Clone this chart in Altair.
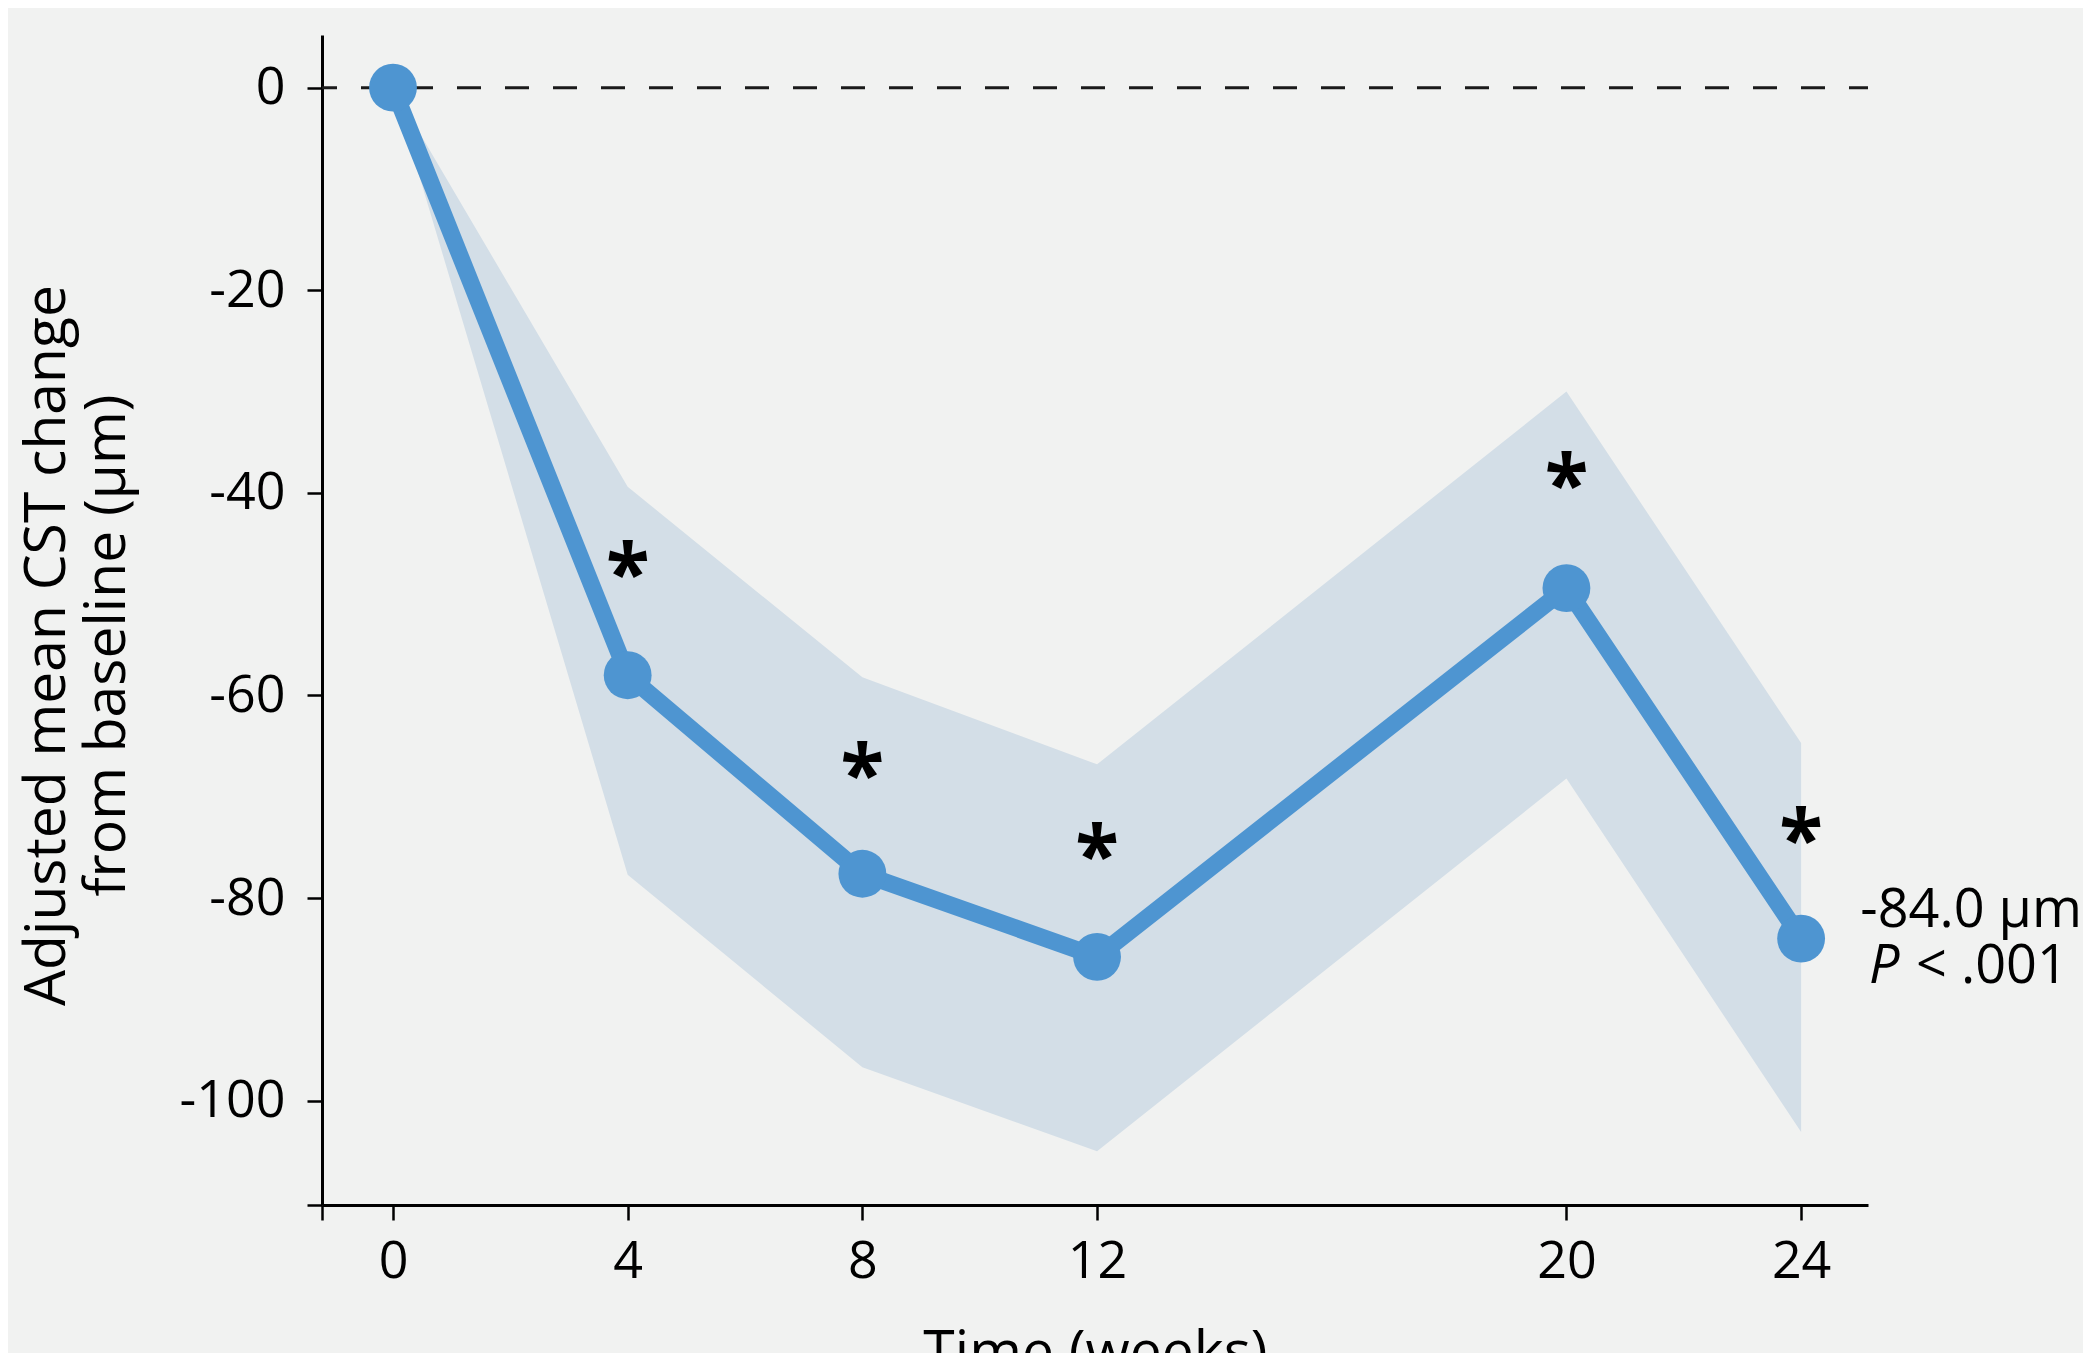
import altair as alt
import pandas as pd

# ---- data ----
weeks = [0, 4, 8, 12, 20, 24]
mean_change = [0.0, -58.0, -77.6, -85.8, -49.4, -84.0]
ci_upper = [0.0, -39.4, -58.2, -66.8, -30.0, -64.7]
ci_lower = [0.0, -77.7, -96.7, -105.0, -68.2, -103.1]

star_weeks = [4, 8, 12, 20, 24]
star_y = [-46.7, -66.6, -74.6, -37.9, -73.0]

x_ticks = [0, 4, 8, 12, 20, 24]
y_ticks = [0, -20, -40, -60, -80, -100]
x_domain = [-1.21, 25.14]
y_domain = [-110.3, 5.2]

y_title = ["Adjusted mean CST change", "from baseline (µm)"]
x_title = "Time (weeks)"
annot_value = "-84.0 µm"
annot_p_italic = "P"
annot_p_rest = "< .001"

LINE_BLUE = "#4e95d1"
BAND = "#d3dee7"
BG = "#f1f2f1"
FONT = "Open Sans"

df = pd.DataFrame({"week": weeks, "mean": mean_change, "hi": ci_upper, "lo": ci_lower})
stars = pd.DataFrame({"week": star_weeks, "mean": star_y, "txt": ["*"] * len(star_weeks)})
last = pd.DataFrame({"week": [weeks[-1]], "mean": [mean_change[-1]]})

xscale = alt.Scale(domain=x_domain, nice=False, zero=False)
yscale = alt.Scale(domain=y_domain, nice=False, zero=False)

xaxis = alt.Axis(
    values=[x_domain[0]] + x_ticks,
    labelExpr="datum.value < 0 ? '' : '' + datum.value",
    title=x_title,
    labelPadding=16,
    titleBaseline="alphabetic",
    titleY=165,
)
yaxis = alt.Axis(
    values=y_ticks + [y_domain[0]],
    labelExpr="datum.value < -105 ? '' : '' + datum.value",
    title=y_title,
    labelPadding=22,
    titleBaseline="alphabetic",
    titleAngle=270,
    titleX=-258,
    titleY=610,
    titleLineHeight=60,
)


def X(field):
    return alt.X(f"{field}:Q", scale=xscale, axis=xaxis)


def Y(field):
    return alt.Y(f"{field}:Q", scale=yscale, axis=yaxis)


band = alt.Chart(df).mark_area(color=BAND, opacity=1).encode(
    x=X("week"), y=Y("lo"), y2="hi"
)

zero_rule = alt.Chart(pd.DataFrame({"z": [0]})).mark_rule(
    color="#1a1a1a", strokeWidth=3, strokeDash=[24, 24], strokeDashOffset=5
).encode(y=Y("z"))

line = alt.Chart(df).mark_line(color=LINE_BLUE, strokeWidth=17).encode(
    x=X("week"), y=Y("mean")
)

points = alt.Chart(df).mark_circle(color=LINE_BLUE, size=2290, opacity=1).encode(
    x=X("week"), y=Y("mean")
)

star_text = alt.Chart(stars).mark_text(
    font=FONT, fontWeight="bold", fontSize=80, color="black",
    align="center", baseline="alphabetic", dy=40
).encode(x=X("week"), y=Y("mean"), text="txt:N")

ann1 = alt.Chart(last).mark_text(
    text=annot_value, font=FONT, fontSize=54, color="black",
    align="center", baseline="alphabetic", dx=170, dy=-12
).encode(x=X("week"), y=Y("mean"))

ann2 = alt.Chart(last).mark_text(
    text=annot_p_italic, font=FONT, fontSize=54, fontStyle="italic", color="black",
    align="left", baseline="alphabetic", dx=68, dy=44
).encode(x=X("week"), y=Y("mean"))

ann3 = alt.Chart(last).mark_text(
    text=annot_p_rest, font=FONT, fontSize=54, color="black",
    align="left", baseline="alphabetic", dx=115, dy=44
).encode(x=X("week"), y=Y("mean"))

chart = alt.layer(band, zero_rule, line, points, star_text, ann1, ann2, ann3).properties(
    width=1546,
    height=1170,
    autosize=alt.AutoSizeParams(type="none"),
    padding={"left": 314, "top": 27, "right": 215, "bottom": 148},
    background=BG,
).configure_view(stroke="transparent").configure_axis(
    grid=False,
    domainColor="black",
    domainWidth=3,
    tickColor="black",
    tickWidth=2.5,
    tickSize=15,
    labelFont=FONT,
    labelFontSize=52,
    labelColor="black",
    titleFont=FONT,
    titleFontSize=57,
    titleFontWeight="normal",
    titleColor="black",
)

chart.save("out.html", embed_options={"renderer": "svg", "actions": False})
